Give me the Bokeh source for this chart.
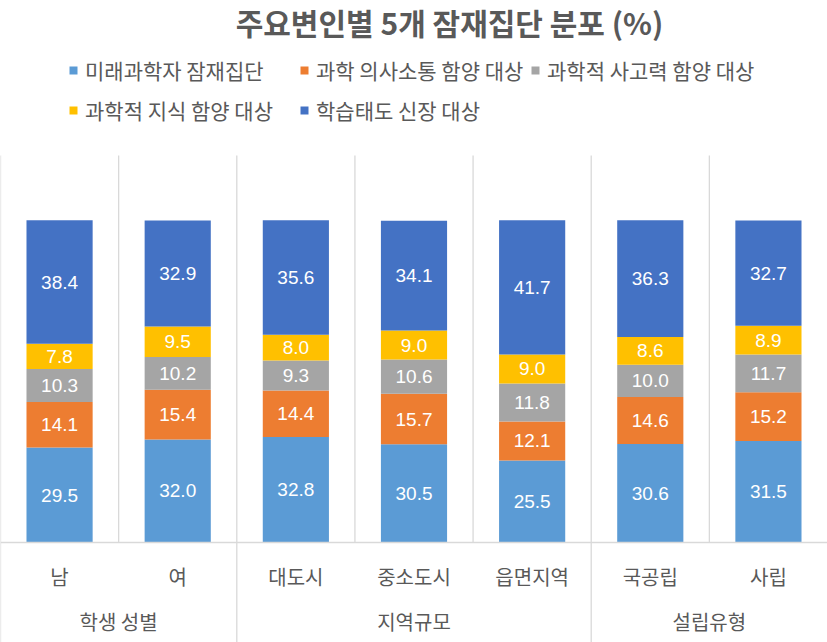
from bokeh.plotting import figure
from bokeh.models import FactorRange, Range1d, ColumnDataSource, Legend, LegendItem, Label
from bokeh.embed import file_html
from bokeh.resources import INLINE
from bokeh.core.properties import value

# ---------------- data ----------------
title_text = "주요변인별 5개 잠재집단 분포 (%)"
groups = ["학생 성별", "지역규모", "설립유형"]
group_members = [["남", "여"], ["대도시", "중소도시", "읍면지역"], ["국공립", "사립"]]
series_names = ["미래과학자 잠재집단", "과학 의사소통 함양 대상", "과학적 사고력 함양 대상",
                "과학적 지식 함양 대상", "학습태도 신장 대상"]
series_colors = ["#5B9BD5", "#ED7D31", "#A5A5A5", "#FFC000", "#4472C4"]
future_scientist = [29.5, 32.0, 32.8, 30.5, 25.5, 30.6, 31.5]
communication = [14.1, 15.4, 14.4, 15.7, 12.1, 14.6, 15.2]
thinking = [10.3, 10.2, 9.3, 10.6, 11.8, 10.0, 11.7]
knowledge = [7.8, 9.5, 8.0, 9.0, 9.0, 8.6, 8.9]
attitude = [38.4, 32.9, 35.6, 34.1, 41.7, 36.3, 32.7]
series_values = [future_scientist, communication, thinking, knowledge, attitude]

# ---------------- layout constants ----------------
W, H = 827, 642
AXIS_Y = 542          # pixel row of the category axis
PX_PER_UNIT = 3.22
Y_MIN = -(H - AXIS_Y) / PX_PER_UNIT
Y_MAX = AXIS_Y / PX_PER_UNIT
GRID_TOP = (AXIS_Y - 155) / PX_PER_UNIT
GRID = "#d9d9d9"
TXT = "#595959"
KFONT = "Noto Sans CJK KR"

factors = [(g, c) for g, cs in zip(groups, group_members) for c in cs]
keys = [f"s{i}" for i in range(len(series_names))]

data = {"x": factors}
for k, vals in zip(keys, series_values):
    data[k] = vals
source = ColumnDataSource(data)

p = figure(x_range=FactorRange(*factors, factor_padding=0, group_padding=0, range_padding=0),
           y_range=Range1d(Y_MIN, Y_MAX), width=W, height=H,
           output_backend="svg", toolbar_location=None, y_axis_location=None,
           min_border=0)
p.outline_line_color = None
p.xgrid.visible = False
p.ygrid.visible = False

# separator lines (between categories and groups)
n = len(factors)
group_starts = [0]
for cs in group_members[:-1]:
    group_starts.append(group_starts[-1] + len(cs))
sx, sy0, sy1 = [], [], []
for i in range(n):
    sx.append(i)
    sy0.append(Y_MIN if i in group_starts else 0)
    sy1.append(GRID_TOP)
p.segment(x0=sx, x1=sx, y0=sy0, y1=sy1, line_color=GRID, line_width=1.3)

renderers = p.vbar_stack(keys, x="x", width=0.56, source=source, color=series_colors,
                         line_color=None)

# data labels
lx, ly, lt = [], [], []
for j in range(n):
    bottom = 0.0
    for vals in series_values:
        v = vals[j]
        lx.append(factors[j])
        ly.append(bottom + v / 2)
        lt.append(f"{v:.1f}")
        bottom += v
p.text(x=lx, y=ly, text=lt, text_align="center", text_baseline="middle",
       text_color="white", text_font=value("Liberation Sans"), text_font_size="19px")

# axis
ax = p.xaxis[0]
ax.fixed_location = 0
ax.axis_line_color = GRID
ax.axis_line_width = 1.3
ax.major_tick_line_color = None
ax.minor_tick_line_color = None
ax.major_label_standoff = 13
ax.major_label_text_font = KFONT
ax.major_label_text_font_size = "20px"
ax.major_label_text_color = TXT
ax.group_text_font = KFONT
ax.group_text_font_size = "20px"
ax.group_text_font_style = "normal"
ax.group_text_color = TXT
ax.separator_line_color = None

# legend
legend = Legend(items=[LegendItem(label=s, renderers=[r]) for s, r in zip(series_names, renderers)],
                ncols=3, orientation="horizontal", location=(68, 514),
                glyph_width=10, glyph_height=10, label_standoff=7, spacing=3, padding=0,
                label_height=37, label_width=211,
                label_text_font=KFONT, label_text_font_size="21px", label_text_color=TXT,
                border_line_color=None, background_fill_alpha=0, margin=0)
p.add_layout(legend)

# title
title = Label(x=449, y=H - 21, x_units="screen", y_units="screen", text=title_text,
              text_align="center", text_baseline="middle", text_font=KFONT,
              text_font_size="30px", text_font_style="bold", text_color=TXT)
p.add_layout(title)

open("out.html", "w").write(file_html(p, INLINE))
